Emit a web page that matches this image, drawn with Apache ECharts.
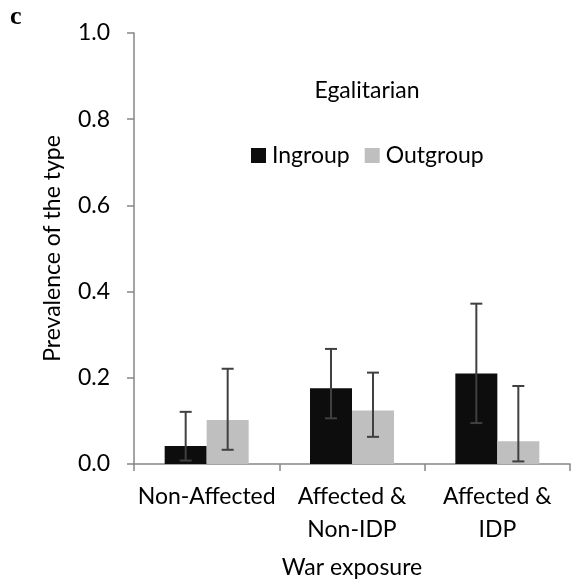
<!DOCTYPE html>
<html>
<head>
<meta charset="utf-8">
<script src="https://cdn.jsdelivr.net/npm/echarts@6/dist/echarts.min.js"></script>
<style>html,body{margin:0;padding:0;background:#fff;}#c{width:576px;height:587px;}</style>
</head>
<body>
<div id="c"></div>
<script>
const categories = ['Non-Affected', 'Affected &\nNon-IDP', 'Affected &\nIDP'];
const yTicks = [0, 0.2, 0.4, 0.6, 0.8, 1.0];
const ingroup = [0.042, 0.176, 0.210];
const outgroup = [0.102, 0.124, 0.053];
const ingroupLow = [0.008, 0.106, 0.095];
const ingroupHigh = [0.121, 0.267, 0.372];
const outgroupLow = [0.033, 0.063, 0.006];
const outgroupHigh = [0.221, 0.212, 0.181];

const FONT = 'Lato';
const BAR_W = 42;

function errData(low, high) {
  return low.map((l, i) => [i, l, high[i]]);
}
function errRender(offset) {
  return function (params, api) {
    const cx = api.coord([api.value(0), 0])[0] + offset;
    const yl = api.coord([api.value(0), api.value(1)])[1];
    const yh = api.coord([api.value(0), api.value(2)])[1];
    const st = { stroke: '#404040', lineWidth: 2 };
    return {
      type: 'group',
      children: [
        { type: 'line', shape: { x1: cx, y1: yl, x2: cx, y2: yh }, style: st },
        { type: 'line', shape: { x1: cx - 6, y1: yl, x2: cx + 6, y2: yl }, style: st },
        { type: 'line', shape: { x1: cx - 6, y1: yh, x2: cx + 6, y2: yh }, style: st }
      ]
    };
  };
}

const chart = echarts.init(document.getElementById('c'), null, { renderer: 'canvas' });
chart.setOption({
  animation: false,
  backgroundColor: '#fff',
  textStyle: { fontFamily: FONT },
  title: [
    { text: 'c', left: 10, top: 4, padding: 0,
      textStyle: { fontFamily: 'Liberation Serif', fontWeight: 'bold', fontSize: 26, color: '#000' } },
    { text: 'Egalitarian', left: 367, top: 79, padding: 0, textAlign: 'center',
      textStyle: { fontFamily: FONT, fontWeight: 'normal', fontSize: 23, color: '#000' } }
  ],
  legend: {
    data: ['Ingroup', 'Outgroup'],
    left: 251, top: 144, padding: 0,
    icon: 'rect', itemWidth: 15, itemHeight: 15, itemGap: 15,
    textStyle: { fontFamily: FONT, fontSize: 23, color: '#000', padding: [0, 0, 0, 1] }
  },
  grid: { left: 134, right: 6, top: 33, bottom: 123, containLabel: false },
  xAxis: {
    type: 'category',
    data: categories,
    name: 'War exposure',
    nameLocation: 'middle',
    nameGap: 92,
    nameTextStyle: { fontFamily: FONT, fontSize: 23, color: '#000' },
    axisLine: { lineStyle: { color: '#868686', width: 1.5 } },
    axisTick: { show: true, length: 7, inside: false, alignWithLabel: false, lineStyle: { color: '#868686', width: 1.5 } },
    axisLabel: { margin: 16, fontFamily: FONT, fontSize: 23, color: '#000', lineHeight: 33, interval: 0 }
  },
  yAxis: {
    type: 'value',
    min: 0, max: 1, interval: 0.2,
    name: 'Prevalence of the type',
    nameLocation: 'middle',
    nameGap: 70,
    nameTextStyle: { fontFamily: FONT, fontSize: 23, color: '#000' },
    axisLine: { show: true, lineStyle: { color: '#868686', width: 1.5 } },
    axisTick: { show: true, length: 7, lineStyle: { color: '#868686', width: 1.5 } },
    splitLine: { show: false },
    axisLabel: { margin: 24, fontFamily: FONT, fontSize: 23, color: '#000',
      formatter: v => v.toFixed(1) }
  },
  series: [
    { name: 'Ingroup', type: 'bar', data: ingroup, barWidth: BAR_W, barGap: '0%',
      itemStyle: { color: '#0d0d0d' } },
    { name: 'Outgroup', type: 'bar', data: outgroup, barWidth: BAR_W, barGap: '0%',
      itemStyle: { color: '#bfbfbf' } },
    { name: 'IngroupErr', type: 'custom', renderItem: errRender(-BAR_W / 2),
      data: errData(ingroupLow, ingroupHigh), z: 5, silent: true },
    { name: 'OutgroupErr', type: 'custom', renderItem: errRender(BAR_W / 2),
      data: errData(outgroupLow, outgroupHigh), z: 5, silent: true }
  ]
});
</script>
</body>
</html>
